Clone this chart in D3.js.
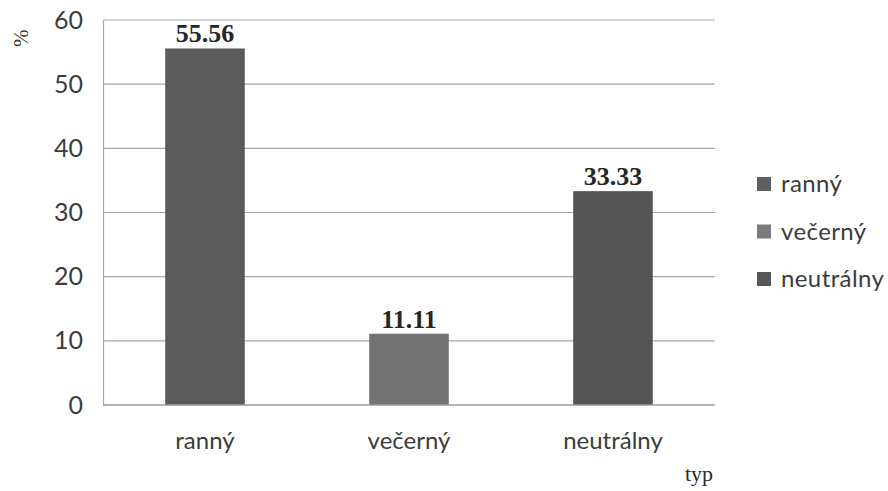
<!DOCTYPE html>
<html>
<head>
<meta charset="utf-8">
<script src="https://cdn.jsdelivr.net/npm/d3@7"></script>
<style>
  html, body { margin: 0; padding: 0; background: #fff; }
  svg { display: block; }
</style>
</head>
<body>
<svg id="chart" width="888" height="491"></svg>
<script>
// Chronotype shares (%)
const categories = ["ranný", "večerný", "neutrálny"];
const values = [55.56, 11.11, 33.33];
const barColors = ["#5b5b5b", "#727272", "#555555"];
const legendColors = ["#5f5f5f", "#7b7b7b", "#565656"];
const yTicks = [0, 10, 20, 30, 40, 50, 60];

const svg = d3.select("#chart");
const plot = { left: 103, right: 715, top: 20, bottom: 405 };

const x = d3.scaleBand()
  .domain(categories)
  .range([plot.left, plot.right])
  .paddingInner(0.61)
  .paddingOuter(0.305);

const y = d3.scaleLinear()
  .domain([0, 60])
  .range([plot.bottom, plot.top]);

const sansFont = "Lato, 'Open Sans', sans-serif";
const serifFont = "'Liberation Serif', 'DejaVu Serif', serif";
const textColor = "#3c3c3c";

// horizontal gridlines
svg.append("g")
  .selectAll("line")
  .data(yTicks.filter(d => d > 0))
  .join("line")
  .attr("x1", plot.left)
  .attr("x2", plot.right)
  .attr("y1", d => y(d))
  .attr("y2", d => y(d))
  .attr("stroke", "#a6a6a6")
  .attr("stroke-width", 1.2);

// y axis
const yAxis = svg.append("g")
  .attr("transform", `translate(${plot.left},0)`)
  .call(d3.axisLeft(y).tickValues(yTicks).tickSize(0).tickPadding(20));
yAxis.select(".domain").attr("stroke", "#a6a6a6").attr("stroke-width", 1.2);
yAxis.selectAll("text")
  .attr("font-family", sansFont)
  .attr("font-size", 25)
  .attr("fill", textColor);

// bars
svg.append("g")
  .selectAll("rect")
  .data(categories)
  .join("rect")
  .attr("x", d => x(d))
  .attr("width", x.bandwidth())
  .attr("y", (d, i) => y(values[i]))
  .attr("height", (d, i) => y(0) - y(values[i]))
  .attr("fill", (d, i) => barColors[i]);

// x axis
const xAxis = svg.append("g")
  .attr("transform", `translate(0,${plot.bottom})`)
  .call(d3.axisBottom(x).tickSize(0).tickPadding(27));
xAxis.select(".domain")
  .attr("d", `M${plot.left},0H${plot.right}`)
  .attr("stroke", "#9a9a9a")
  .attr("stroke-width", 1.5);
xAxis.selectAll("text")
  .attr("font-family", sansFont)
  .attr("font-size", 24)
  .attr("fill", textColor);

// value labels
svg.append("g")
  .selectAll("text")
  .data(categories)
  .join("text")
  .attr("x", d => x(d) + x.bandwidth() / 2)
  .attr("y", (d, i) => y(values[i]) - 6)
  .attr("text-anchor", "middle")
  .attr("font-family", serifFont)
  .attr("font-weight", "bold")
  .attr("font-size", 26)
  .attr("fill", "#262626")
  .text((d, i) => values[i].toFixed(2));

// axis titles
svg.append("text")
  .attr("transform", "translate(28,47) rotate(-90)")
  .attr("font-family", serifFont)
  .attr("font-size", 21)
  .attr("fill", textColor)
  .text("%");

svg.append("text")
  .attr("x", 713)
  .attr("y", 481)
  .attr("text-anchor", "end")
  .attr("font-family", serifFont)
  .attr("font-size", 22)
  .attr("fill", "#2a2a2a")
  .text("typ");

// legend
const legend = svg.append("g")
  .selectAll("g")
  .data(categories)
  .join("g")
  .attr("transform", (d, i) => `translate(757,${184 + i * 47.5})`);
legend.append("rect")
  .attr("x", 0)
  .attr("y", -7)
  .attr("width", 14)
  .attr("height", 14)
  .attr("fill", (d, i) => legendColors[i]);
legend.append("text")
  .attr("x", 24)
  .attr("y", 0)
  .attr("dy", "0.35em")
  .attr("font-family", sansFont)
  .attr("font-size", 24)
  .attr("letter-spacing", 0.4)
  .attr("fill", textColor)
  .text(d => d);
</script>
</body>
</html>
